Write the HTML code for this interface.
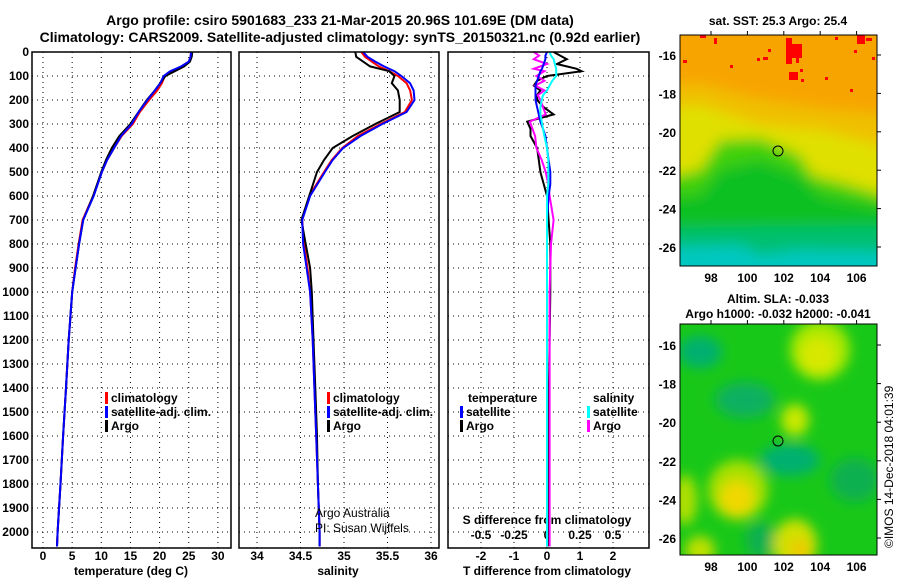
<!DOCTYPE html>
<html><head><meta charset="utf-8"><style>
html,body{margin:0;padding:0;background:#fff;}
svg{display:block;font-family:"Liberation Sans",Arial,sans-serif;}
.t{font-weight:bold;font-size:12px;fill:#000;}
.title{font-weight:bold;font-size:14px;fill:#000;}
</style></head><body>
<svg id="c" width="900" height="580" viewBox="0 0 900 580" xmlns="http://www.w3.org/2000/svg">
<defs>
<filter id="blur1" x="-20%" y="-20%" width="140%" height="140%"><feGaussianBlur stdDeviation="7"/></filter>
<filter id="blur2" x="-20%" y="-20%" width="140%" height="140%"><feGaussianBlur stdDeviation="6"/></filter>
<clipPath id="clipTop"><rect x="680" y="35" width="197" height="231"/></clipPath>
<clipPath id="clipBot"><rect x="680" y="324" width="197" height="231"/></clipPath>
</defs>
<text class="title" x="340" y="25" text-anchor="middle">Argo profile: csiro 5901683_233 21-Mar-2015 20.96S 101.69E (DM data)</text>
<text class="title" x="340" y="42" text-anchor="middle">Climatology: CARS2009. Satellite-adjusted climatology: synTS_20150321.nc (0.92d earlier)</text>
<g id="g"></g>

<!-- SST map -->
<g clip-path="url(#clipTop)">
<rect x="680" y="35" width="197" height="231" fill="#f8a400"/>
<g filter="url(#blur1)">
<path d="M640,85 L700,83 L750,97 L800,105 L840,110 L900,115 L900,300 L640,300 Z" fill="#f0c000"/>
<path d="M640,110 L700,105 L760,125 L820,130 L900,150 L900,300 L640,300 Z" fill="#e0e000"/>
<path d="M640,183 L700,170 L720,140 L760,138 L800,155 L812,175 L840,182 L900,200 L900,300 L640,300 Z" fill="#40d010"/>
<path d="M640,200 L700,195 L720,170 L760,160 L800,175 L820,195 L900,210 L900,300 L640,300 Z" fill="#10c020"/>
<path d="M640,228 L900,225 L900,300 L640,300 Z" fill="#00c070"/>
<path d="M640,248 L740,245 L760,255 L800,250 L900,252 L900,300 L640,300 Z" fill="#00c8c0"/>
</g>
<g fill="#f00">
<rect x="700" y="35" width="6" height="3"/><rect x="714" y="38" width="3" height="6"/><rect x="683" y="60" width="4" height="3"/>
<rect x="768" y="49" width="3" height="3"/><rect x="763" y="57" width="5" height="3"/><rect x="757" y="58" width="3" height="3"/>
<rect x="786" y="38" width="6" height="26"/><rect x="790" y="44" width="12" height="14"/><rect x="796" y="55" width="3" height="8"/>
<rect x="789" y="72" width="9" height="8"/><rect x="800" y="69" width="3" height="3"/><rect x="801" y="79" width="3" height="3"/>
<rect x="825" y="77" width="3" height="3"/><rect x="857" y="35" width="8" height="9"/><rect x="866" y="38" width="6" height="3"/>
<rect x="854" y="50" width="3" height="3"/><rect x="872" y="57" width="3" height="3"/><rect x="850" y="89" width="3" height="3"/>
<rect x="835" y="37" width="3" height="3"/><rect x="730" y="65" width="3" height="3"/>
</g>
</g>
<!-- SLA map -->
<g clip-path="url(#clipBot)">
<rect x="680" y="324" width="197" height="231" fill="#18c818"/>
<g filter="url(#blur2)">
<ellipse cx="700" cy="352" rx="22" ry="16" fill="#00b070"/>
<ellipse cx="745" cy="400" rx="30" ry="18" fill="#08b060"/>
<ellipse cx="790" cy="460" rx="30" ry="16" fill="#00b070"/>
<ellipse cx="855" cy="480" rx="25" ry="22" fill="#10b050"/>
<ellipse cx="760" cy="540" rx="15" ry="18" fill="#10b050"/>
<ellipse cx="820" cy="350" rx="30" ry="30" fill="#a8e800"/>
<ellipse cx="818" cy="355" rx="18" ry="18" fill="#d8e800"/>
<ellipse cx="795" cy="420" rx="14" ry="16" fill="#c8e800"/>
<ellipse cx="738" cy="490" rx="30" ry="30" fill="#a8e000"/>
<ellipse cx="737" cy="498" rx="17" ry="18" fill="#f0d800"/>
<ellipse cx="795" cy="545" rx="22" ry="26" fill="#d0e000"/>
<ellipse cx="800" cy="550" rx="10" ry="10" fill="#f0c800"/>
<ellipse cx="700" cy="550" rx="15" ry="14" fill="#c0e000"/>
<ellipse cx="685" cy="500" rx="12" ry="25" fill="#b0e000"/>
</g>
</g>
<rect x="680" y="35" width="197" height="231" fill="none" stroke="#000"/>
<rect x="680" y="324" width="197" height="231" fill="none" stroke="#000"/>
<circle cx="778" cy="151" r="5" fill="none" stroke="#000"/>
<circle cx="778" cy="441" r="5" fill="none" stroke="#000"/>
<text class="t" x="778" y="25" text-anchor="middle">sat. SST: 25.3 Argo: 25.4</text>
<text class="t" x="778" y="303" text-anchor="middle">Altim. SLA: -0.033</text>
<text class="t" x="778" y="318" text-anchor="middle">Argo h1000: -0.032 h2000: -0.041</text>
<text x="893" y="548" font-size="12" transform="rotate(-90 893 548)">©IMOS 14-Dec-2018 04:01:39</text>
</svg>
<script>
// ---- data ----
const depthTicks=[0,100,200,300,400,500,600,700,800,900,1000,1100,1200,1300,1400,1500,1600,1700,1800,1900,2000];
const tTicks=[0,5,10,15,20,25,30];
const sTicks=[34,34.5,35,35.5,36];
const sLabels=["34","34.5","35","35.5","36"];
const dTicks=[-2,-1,0,1,2];
const dsTicks=[-0.5,-0.25,0,0.25,0.5];
const dsLabels=["-0.5","-0.25","0","0.25","0.5"];

const depths=[0,20,40,60,80,100,130,160,200,250,300,350,400,450,500,600,700,800,900,1000,1200,1400,1600,1800,2000,2060];
const tempArgo=[25.6,25.5,25.2,24.2,22.6,21.0,20.1,19.2,17.8,16.4,15.0,13.1,11.8,10.8,10.0,8.6,6.9,6.2,5.6,5.0,4.4,3.95,3.45,3.0,2.5,2.4];
const tempClim=[25.4,25.3,25.0,23.8,22.0,20.9,20.4,19.6,18.2,16.6,15.4,13.5,12.2,11.0,10.1,8.6,6.8,6.1,5.5,5.0,4.4,3.95,3.45,3.0,2.5,2.4];
const tempSat=[25.4,25.3,25.0,23.7,21.8,20.7,20.1,19.2,17.9,16.4,15.2,13.4,12.2,11.0,10.1,8.7,6.9,6.2,5.6,5.0,4.4,3.95,3.45,3.0,2.5,2.4];
const salArgo=[35.13,35.14,35.22,35.30,35.52,35.58,35.55,35.62,35.64,35.64,35.36,35.10,34.87,34.77,34.69,34.60,34.51,34.56,34.61,34.63,34.65,34.67,34.69,34.70,34.72,34.72];
const salClim=[35.20,35.24,35.32,35.40,35.52,35.62,35.72,35.76,35.78,35.70,35.42,35.16,34.98,34.86,34.77,34.60,34.52,34.54,34.58,34.61,34.64,34.66,34.68,34.70,34.72,34.72];
const salSat=[35.22,35.27,35.36,35.46,35.58,35.66,35.76,35.80,35.81,35.72,35.44,35.19,34.99,34.87,34.78,34.61,34.52,34.53,34.57,34.61,34.64,34.66,34.68,34.70,34.72,34.72];
const dDepths=[0,15,30,50,70,80,100,120,140,160,180,200,230,260,290,320,350,400,450,500,550,600,700,800,1000,1500,2060];
const dTArgo=[0.2,0.4,0.6,0.3,0.9,1.05,0.0,-0.3,-0.4,-0.2,-0.3,-0.3,-0.1,0.2,-0.6,-0.5,-0.5,-0.3,-0.25,-0.2,-0.1,0.0,0.05,0.1,0.1,0.05,0.05];
const dTSat=[0.0,-0.05,-0.05,-0.1,-0.15,-0.2,-0.25,-0.3,-0.35,-0.35,-0.35,-0.35,-0.3,-0.25,-0.2,-0.12,-0.05,0.0,0.05,0.1,0.1,0.05,0.0,0.0,0.0,0.0,0.0];
const dSArgo=[-0.1,-0.06,-0.1,0.0,-0.1,-0.02,-0.08,-0.02,-0.09,-0.02,-0.07,-0.05,-0.03,-0.01,-0.13,-0.11,-0.09,-0.08,-0.04,-0.01,0.01,0.02,0.05,0.03,0.02,0.02,0.02];
const dSSat=[0.02,0.03,0.05,0.06,0.07,0.07,0.07,0.04,0.02,0.0,-0.03,-0.04,-0.05,-0.05,-0.04,-0.03,-0.02,0.0,0.01,0.01,0.01,0.0,0.0,0.0,0.0,0.0,0.0];
const mapLons=[98,100,102,104,106];
const mapLats=[-16,-18,-20,-22,-24,-26];

// ---- scales ----
const Y=d=>52+d*0.24;
const xT=v=>43+v*5.83;
const xS=v=>257+(v-34)*87;
const xD=v=>547+v*33;
const xDS=v=>547+v*132;
const lonX=l=>711+(l-98)*18.2;
const latYTop=l=>55+(-16-l)*19.2;
const latYBot=l=>345+(-16-l)*19.3;

const NS='http://www.w3.org/2000/svg';
const g=document.getElementById('g');
function el(tag,attrs,parent){const e=document.createElementNS(NS,tag);for(const k in attrs)e.setAttribute(k,attrs[k]);(parent||g).appendChild(e);return e;}
function txt(x,y,s,anchor,cls){const e=el('text',{x:x,y:y,'text-anchor':anchor||'middle',class:cls||'t'});e.textContent=s;return e;}

const panels=[{x0:32,x1:231,name:'temperature-panel'},{x0:239,x1:439,name:'salinity-panel'},{x0:448,x1:649,name:'difference-panel'}];
const yBot=548;

panels.forEach((p,i)=>{
  const pg=el('g',{});
  
  
  depthTicks.forEach(d=>{if(d>0){el('line',{x1:p.x0,x2:p.x1,y1:Y(d),y2:Y(d),stroke:'#000','stroke-dasharray':'1,4'},pg);}});
  let xs=i==0?tTicks.map(xT):i==1?sTicks.map(xS):dTicks.map(xD);
  xs.forEach(x=>el('line',{x1:x,x2:x,y1:52,y2:yBot,stroke:'#000','stroke-dasharray':'1,4'},pg));
});

depthTicks.forEach(d=>{
  const t=txt(29,Y(d)+4,String(d),'end');
  
  
});
tTicks.forEach(v=>{const t=txt(xT(v),560,String(v));});
sTicks.forEach((v,i)=>{const t=txt(xS(v),560,sLabels[i]);});
dTicks.forEach(v=>{const t=txt(xD(v),560,String(v));});
dsTicks.forEach((v,i)=>{const t=txt(xDS(v),539,dsLabels[i]);});
[[131,'temperature (deg C)','temperature-axis-title'],[338,'salinity','salinity-axis-title'],[547,'T difference from climatology','t-diff-axis-title']].forEach(a=>{
  const t=txt(a[0],575,a[1]);});
const sdt=txt(547,524,'S difference from climatology');



mapLons.forEach(l=>{
  [270,559].forEach(yy=>{
    const t=txt(lonX(l),yy+12,String(l));
  });
  el('line',{x1:lonX(l),x2:lonX(l),y1:31,y2:35,stroke:'#000'});
  el('line',{x1:lonX(l),x2:lonX(l),y1:320,y2:324,stroke:'#000'});
});
mapLats.forEach(l=>{
  let t=txt(676,latYTop(l)+5,String(l),'end');
  t=txt(676,latYBot(l)+5,String(l),'end');
  el('line',{x1:877,x2:881,y1:latYTop(l),y2:latYTop(l),stroke:'#000'});
  el('line',{x1:877,x2:881,y1:latYBot(l),y2:latYBot(l),stroke:'#000'});
});

function series(xf,ys,vals,color,w,name){
  const pts=vals.map((v,i)=>xf(v).toFixed(1)+','+Y(ys[i]).toFixed(1)).join(' ');
  const p=el('polyline',{points:pts,fill:'none',stroke:color,'stroke-width':w});
  
  
}
series(xT,depths,tempClim,'#f00',2,'temperature-climatology-line');
series(xT,depths,tempArgo,'#000',2,'temperature-argo-line');
series(xT,depths,tempSat,'#00f',2,'temperature-satellite-line');
series(xS,depths,salClim,'#f00',2,'salinity-climatology-line');
series(xS,depths,salArgo,'#000',2,'salinity-argo-line');
series(xS,depths,salSat,'#00f',2,'salinity-satellite-line');
series(xD,dDepths,dTArgo,'#000',2,'t-diff-argo-line');
series(xDS,dDepths,dSArgo,'#f0f',2,'s-diff-argo-line');
series(xD,dDepths,dTSat,'#00f',2,'t-diff-satellite-line');
series(xDS,dDepths,dSSat,'#0ff',2,'s-diff-satellite-line');

panels.forEach(p=>{
  const r=el('rect',{x:p.x0,y:52,width:p.x1-p.x0,height:yBot-52,fill:'none',stroke:'#000','stroke-width':1.5});
  
  
});

function legend(x,y,color,label,name){
  const lg=el('g',{});
  
  
  el('rect',{x:x,y:y-10,width:3,height:12,fill:color},lg);
  const t=el('text',{x:x+6,y:y,class:'t'},lg);t.textContent=label;
}
legend(105,402,'#f00','climatology','legend-temperature-climatology');
legend(105,416,'#00f','satellite-adj. clim.','legend-temperature-satellite');
legend(105,430,'#000','Argo','legend-temperature-argo');
legend(327,402,'#f00','climatology','legend-salinity-climatology');
legend(327,416,'#00f','satellite-adj. clim.','legend-salinity-satellite');
legend(327,430,'#000','Argo','legend-salinity-argo');
let lt=txt(468,402,'temperature','start');
lt=txt(593,402,'salinity','start');
legend(460,416,'#00f','satellite','legend-t-diff-satellite');
legend(460,430,'#000','Argo','legend-t-diff-argo');
legend(587,416,'#0ff','satellite','legend-s-diff-satellite');
legend(587,430,'#f0f','Argo','legend-s-diff-argo');
const aa=el('text',{x:315,y:517,'font-size':'12'});aa.textContent='Argo Australia';


const pi=el('text',{x:315,y:532,'font-size':'12'});pi.textContent='PI: Susan Wijffels';


</script>
</body></html>
